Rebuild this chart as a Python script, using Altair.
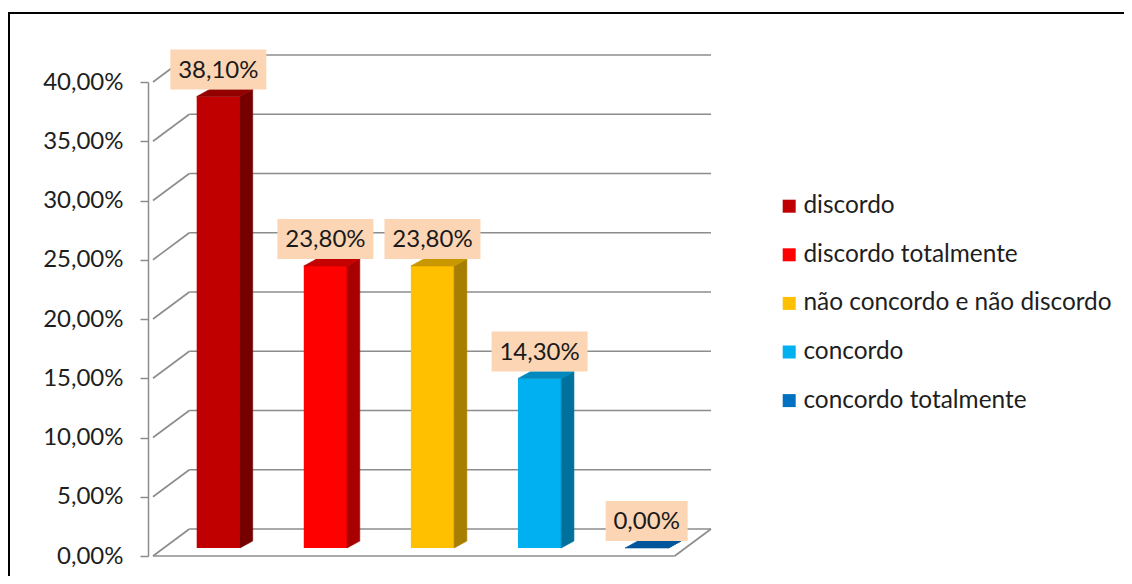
import altair as alt
import pandas as pd

# ---------------- data ----------------
categories = ["discordo", "discordo totalmente", "não concordo e não discordo",
              "concordo", "concordo totalmente"]
values = [38.1, 23.8, 23.8, 14.3, 0.0]
front_colors = ["#C00000", "#FF0000", "#FFC000", "#00B0F0", "#0070C0"]
side_colors = ["#760000", "#A80000", "#A87E00", "#00709C", "#004B82"]
top_colors = ["#920000", "#C40000", "#C99700", "#0089BE", "#00569A"]
y_ticks = [0, 5, 10, 15, 20, 25, 30, 35, 40]

# ---------------- layout constants (data units) ----------------
X_MIN, X_MAX = -0.61, 4.601
UX, UY = 109.0, 11.85          # px per x unit, px per percent
WALL_DX, WALL_DY = 37 / UX, 27 / UY
HALF = 22 / UX
BASE = 8 / UY
BDX, BDY = 13 / UX, 7 / UY
BOX_H = 40 / UY

FONT = "Lato"
TXT = "#1E1E1E"
GRID = "#8C8C8C"

xscale = alt.Scale(domain=[X_MIN, X_MAX], nice=False, zero=False)
yscale = alt.Scale(domain=[0, 40], nice=False, zero=False)
yaxis = alt.Axis(values=y_ticks, title=None, grid=False,
                 labelExpr="replace(format(datum.value, '.2f'), '.', ',') + '%'",
                 labelFont=FONT, labelFontSize=24, labelColor=TXT,
                 labelPadding=17, tickSize=8, tickColor=GRID, tickWidth=1.5,
                 domainColor=GRID, domainWidth=1.5)


def X(f):
    return alt.X(f, type="quantitative", scale=xscale, axis=None)


def Y(f):
    return alt.Y(f, type="quantitative", scale=yscale, axis=yaxis)


# ---------------- walls / floor ----------------
grid_df = pd.DataFrame({"t": y_ticks})
grid_df["yb"] = grid_df["t"] + WALL_DY
grid_df["xa"] = X_MIN + WALL_DX
grid_df["xb"] = X_MAX
grid_df["xl0"] = X_MIN
grid_df["xl1"] = X_MIN + WALL_DX

back_grid = alt.Chart(grid_df).mark_rule(color=GRID, strokeWidth=1.6).encode(
    x=X("xa"), x2="xb", y=Y("yb"))
left_grid = alt.Chart(grid_df).mark_rule(color=GRID, strokeWidth=1.6).encode(
    x=X("xl0"), x2="xl1", y=Y("t"), y2="yb")

floor_df = pd.DataFrame({
    "xa": [X_MIN, X_MAX - WALL_DX],
    "xb": [X_MAX - WALL_DX, X_MAX],
    "ya": [0.0, 0.0],
    "yb": [0.0, WALL_DY],
})
floor = alt.Chart(floor_df).mark_rule(color=GRID, strokeWidth=1.6).encode(
    x=X("xa"), x2="xb", y=Y("ya"), y2="yb")

# ---------------- bars ----------------
bars = pd.DataFrame({"cat": categories, "i": list(range(len(categories))),
                     "v": values, "side": side_colors, "top": top_colors})
bars["x0"] = bars["i"] - HALF
bars["x1"] = bars["i"] + HALF
bars["y0"] = BASE
bars["y1"] = BASE + bars["v"]

front = alt.Chart(bars).mark_rect().encode(
    x=X("x0"), x2="x1", y=Y("y1"), y2="y0",
    color=alt.Color("cat:N", sort=categories,
                    scale=alt.Scale(domain=categories, range=front_colors),
                    legend=alt.Legend(title=None, orient="none", legendX=629, legendY=112,
                                      symbolType="square", symbolSize=169,
                                      symbolStrokeWidth=0, labelFont=FONT,
                                      labelFontSize=24.4, labelColor=TXT, labelLimit=0,
                                      labelOffset=2, rowPadding=23.6, padding=0)))

side_rows = []
top_rows = []
for _, r in bars.iterrows():
    side_rows.append({"cat": r["cat"], "x": r["x1"], "lo": r["y0"], "hi": r["y1"], "fill": r["side"]})
    side_rows.append({"cat": r["cat"], "x": r["x1"] + BDX, "lo": r["y0"] + BDY,
                      "hi": r["y1"] + BDY, "fill": r["side"]})
    top_rows.append({"cat": r["cat"], "y": r["y1"], "xa": r["x0"], "xb": r["x1"], "fill": r["top"]})
    top_rows.append({"cat": r["cat"], "y": r["y1"] + BDY, "xa": r["x0"] + BDX,
                     "xb": r["x1"] + BDX, "fill": r["top"]})
side_df = pd.DataFrame(side_rows)
top_df = pd.DataFrame(top_rows)

side = alt.Chart(side_df).mark_area(strokeWidth=0.6).encode(
    x=X("x"), y=Y("hi"), y2="lo", detail="cat:N",
    fill=alt.Fill("fill:N", scale=None), stroke=alt.Stroke("fill:N", scale=None))
top = alt.Chart(top_df).mark_area(orient="horizontal", strokeWidth=0.6).encode(
    y=Y("y"), x=X("xa"), x2="xb", detail="cat:N",
    fill=alt.Fill("fill:N", scale=None), stroke=alt.Stroke("fill:N", scale=None))

# ---------------- data labels ----------------
lab = bars[["cat", "i", "v"]].copy()
lab["label"] = [f"{v:.2f}".replace(".", ",") + "%" for v in values]
lab["bw"] = [14 * len(s) + 12 for s in lab["label"]]
lab["by0"] = BASE + lab["v"] + BDY
lab["by1"] = lab["by0"] + BOX_H
lab["bym"] = (lab["by0"] + lab["by1"]) / 2

boxes = alt.Chart(lab).mark_bar(color="#FCD5B5").encode(
    x=X("i"), y=Y("by1"), y2="by0", size=alt.Size("bw:Q", scale=None))
texts = alt.Chart(lab).mark_text(font=FONT, fontSize=24, color="#1A1A1A",
                                 baseline="middle", align="center", dy=1).encode(
    x=X("i"), y=Y("bym"), text="label:N")

# ---------------- outer frame ----------------
one = pd.DataFrame({"a": [0]})
frame_top = alt.Chart(one).mark_rule(color="#000000", strokeWidth=2).encode(
    x=alt.value(-140), x2=alt.value(1000), y=alt.value(-69))
frame_left = alt.Chart(one).mark_rule(color="#000000", strokeWidth=2).encode(
    x=alt.value(-139), y=alt.value(-69), y2=alt.value(600))

chart = alt.layer(
    back_grid, left_grid, floor, front, side, top, boxes, texts, frame_top, frame_left
).properties(
    width=568, height=474,
    autosize=alt.AutoSizeParams(type="none"),
    padding={"left": 140, "top": 74, "right": 408, "bottom": 20},
    background="white",
).configure_view(strokeWidth=0)

chart.save("out.html", embed_options={"renderer": "svg", "actions": False})
